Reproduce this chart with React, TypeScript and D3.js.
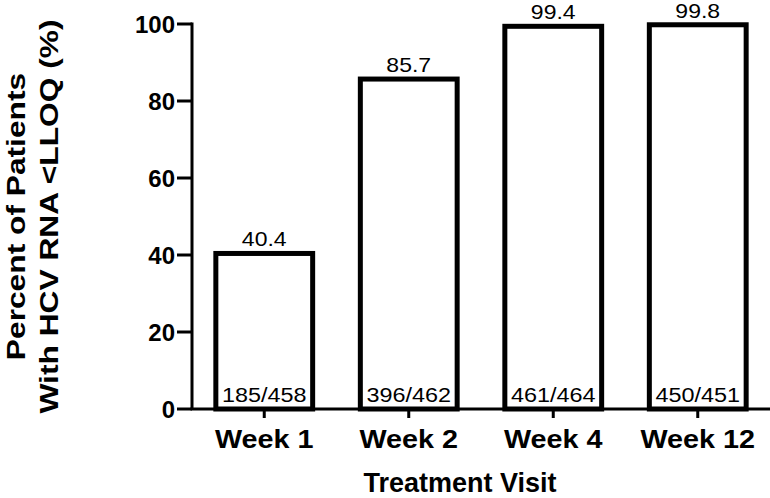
import React from "react";
import * as d3 from "d3";

const categories = ["Week 1", "Week 2", "Week 4", "Week 12"];
const percents = [40.4, 85.7, 99.4, 99.8];
const counts = ["185/458", "396/462", "461/464", "450/451"];
const yTicks = [0, 20, 40, 60, 80, 100];

const W = 770;
const H = 498;
const FONT = "'Liberation Sans', Arial, Helvetica, sans-serif";

export default function App() {
  const x = d3
    .scaleBand<string>()
    .domain(categories)
    .range([192, 770])
    .paddingInner(0.33)
    .paddingOuter(0.165);
  const y = d3.scaleLinear().domain([0, 100]).range([409, 24]);
  const sx = 1.15;

  return (
    <svg
      width={W}
      height={H}
      style={{ position: "absolute", left: 0, top: 0, background: "#fff" }}
      fontFamily={FONT}
    >
      {/* bars */}
      {categories.map((c, i) => {
        const x0 = x(c)!;
        const bw = x.bandwidth();
        const cx = x0 + bw / 2;
        return (
          <g key={c}>
            <rect
              x={x0}
              y={y(percents[i])}
              width={bw}
              height={y(0) - y(percents[i])}
              fill="#fff"
              stroke="#000"
              strokeWidth={5}
            />
            <text
              transform={`translate(${cx},${y(percents[i]) - 7}) scale(${sx},1)`}
              textAnchor="middle"
              fontSize={20}
              fill="#000"
            >
              {percents[i].toFixed(1)}
            </text>
            <text
              transform={`translate(${cx},${y(0) - 7}) scale(1.2,1)`}
              textAnchor="middle"
              fontSize={19.5}
              fill="#000"
            >
              {counts[i]}
            </text>
          </g>
        );
      })}

      {/* y axis */}
      <line x1={192} x2={192} y1={y(100) - 1.5} y2={y(0)} stroke="#000" strokeWidth={3} />
      {yTicks.map((t) => (
        <g key={t}>
          <line x1={177} x2={192} y1={y(t)} y2={y(t)} stroke="#000" strokeWidth={3} />
          <text
            x={175}
            y={y(t) + 8.5}
            textAnchor="end"
            fontSize={24}
            fontWeight="bold"
            fill="#000"
          >
            {t}
          </text>
        </g>
      ))}

      {/* x axis */}
      <line x1={190.5} x2={770} y1={y(0)} y2={y(0)} stroke="#000" strokeWidth={3} />
      {categories.map((c) => {
        const cx = x(c)! + x.bandwidth() / 2;
        return (
          <g key={c}>
            <line x1={cx} x2={cx} y1={y(0)} y2={y(0) + 9} stroke="#000" strokeWidth={3} />
            <text
              transform={`translate(${cx},448) scale(${sx},1)`}
              textAnchor="middle"
              fontSize={25}
              fontWeight="bold"
              fill="#000"
            >
              {c}
            </text>
          </g>
        );
      })}

      {/* axis titles */}
      <text
        transform="translate(460,492)"
        textAnchor="middle"
        fontSize={27}
        fontWeight="bold"
        fill="#000"
      >
        Treatment Visit
      </text>
      <text
        transform={`translate(25,${(y(0) + y(100)) / 2}) rotate(-90) scale(1.22,1)`}
        textAnchor="middle"
        fontSize={26}
        fontWeight="bold"
        fill="#000"
      >
        Percent of Patients
      </text>
      <text
        transform={`translate(58,${(y(0) + y(100)) / 2}) rotate(-90) scale(1.22,1)`}
        textAnchor="middle"
        fontSize={26}
        fontWeight="bold"
        fill="#000"
      >
        With HCV RNA &lt;LLOQ (%)
      </text>
    </svg>
  );
}
